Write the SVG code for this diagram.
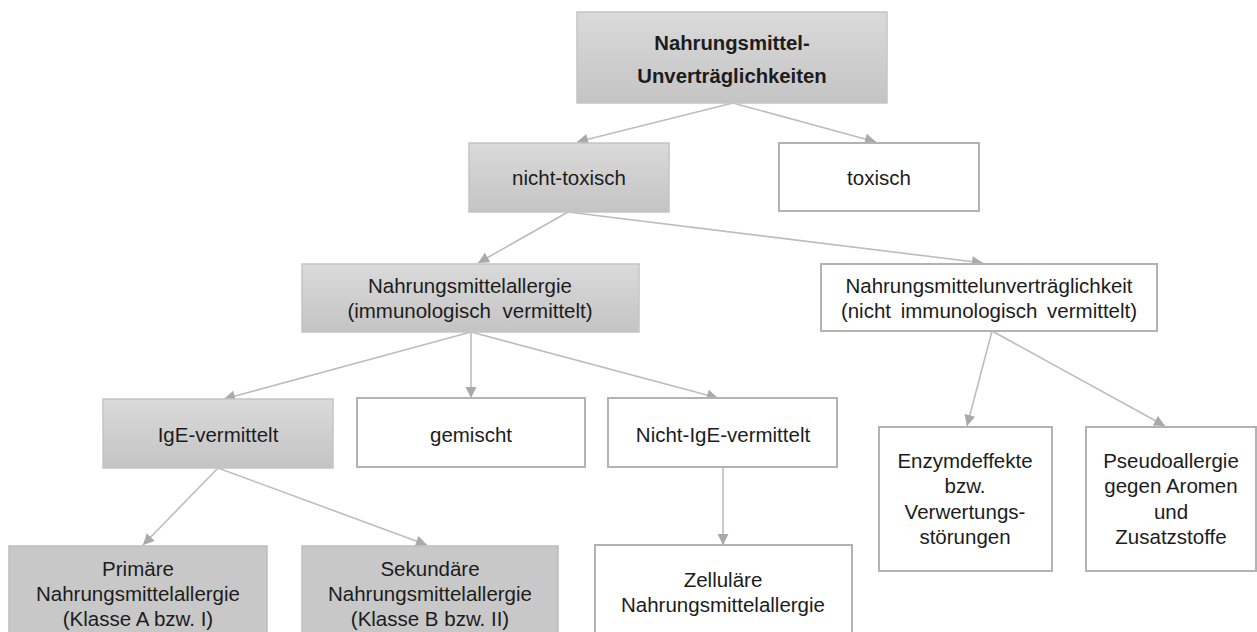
<svg xmlns="http://www.w3.org/2000/svg" width="1257" height="632" viewBox="0 0 1257 632">
<defs>
<linearGradient id="g" x1="0" y1="0" x2="0" y2="1">
<stop offset="0" stop-color="#dadada"/>
<stop offset="1" stop-color="#c4c4c4"/>
</linearGradient>
<marker id="arr" markerUnits="userSpaceOnUse" markerWidth="14" markerHeight="14" viewBox="0 0 14 14" refX="12" refY="7" orient="auto">
<path d="M1,1.5 L12,7 L1,12.5 Z" fill="#a9a9a9"/>
</marker>
<style>
.grad{fill:url(#g);stroke:#c4c4c4;stroke-width:1.5}
.flat{fill:#c8c8c8;stroke:#bdbdbd;stroke-width:1.5}
.white{fill:#ffffff;stroke:#b3b3b3;stroke-width:2}
text{font-family:"Liberation Sans",Arial,sans-serif;font-size:20.5px;fill:#1c1c1c;text-anchor:middle}
.bold{font-weight:bold;font-size:20.3px}
.conn line{stroke:#bdbdbd;stroke-width:1.6;marker-end:url(#arr)}
</style>
</defs>
<rect width="1257" height="632" fill="#ffffff"/>
<g class="conn" id="connectors">
<line x1="733" y1="103" x2="577" y2="142"/>
<line x1="733" y1="103" x2="876" y2="142"/>
<line x1="568" y1="212" x2="478" y2="263"/>
<line x1="568" y1="212" x2="983" y2="263"/>
<line x1="471" y1="332" x2="224" y2="399"/>
<line x1="471" y1="332" x2="471" y2="398"/>
<line x1="471" y1="332" x2="718" y2="398"/>
<line x1="992" y1="331" x2="967" y2="426"/>
<line x1="992" y1="331" x2="1165" y2="426"/>
<line x1="218" y1="468" x2="143" y2="545"/>
<line x1="218" y1="468" x2="427" y2="545"/>
<line x1="723" y1="467" x2="723" y2="545"/>
</g>
<g id="n-root">
<rect class="grad" x="577" y="12" width="310" height="91"/>
<text class="bold" x="732" y="50">Nahrungsmittel-</text>
<text class="bold" x="732" y="83">Unverträglichkeiten</text>
</g>
<g id="n-nichttoxisch">
<rect class="grad" x="469" y="143" width="200" height="69"/>
<text x="569" y="185">nicht-toxisch</text>
</g>
<g id="n-toxisch">
<rect class="white" x="779" y="143" width="200" height="68"/>
<text x="879" y="185">toxisch</text>
</g>
<g id="n-allergie">
<rect class="grad" x="302" y="264" width="337" height="68"/>
<text x="470" y="293">Nahrungsmittelallergie</text>
<text x="470" y="318" word-spacing="6">(immunologisch vermittelt)</text>
</g>
<g id="n-unvertraeglichkeit">
<rect class="white" x="821" y="264" width="336" height="67"/>
<text x="989" y="293">Nahrungsmittelunverträglichkeit</text>
<text x="989" y="318" word-spacing="4">(nicht immunologisch vermittelt)</text>
</g>
<g id="n-ige">
<rect class="grad" x="103" y="399" width="230" height="69"/>
<text x="218" y="442">IgE-vermittelt</text>
</g>
<g id="n-gemischt">
<rect class="white" x="357" y="398" width="228" height="69"/>
<text x="471" y="442">gemischt</text>
</g>
<g id="n-nichtige">
<rect class="white" x="608" y="398" width="229" height="69"/>
<text x="723" y="442">Nicht-IgE-vermittelt</text>
</g>
<g id="n-enzym">
<rect class="white" x="879" y="427" width="173" height="144"/>
<text x="965" y="468">Enzymdeffekte</text>
<text x="965" y="493">bzw.</text>
<text x="965" y="519">Verwertungs-</text>
<text x="965" y="544">störungen</text>
</g>
<g id="n-pseudo">
<rect class="white" x="1086" y="427" width="170" height="144"/>
<text x="1171" y="468">Pseudoallergie</text>
<text x="1171" y="493">gegen Aromen</text>
<text x="1171" y="519">und</text>
<text x="1171" y="544">Zusatzstoffe</text>
</g>
<g id="n-primaer">
<rect class="flat" x="9" y="546" width="258" height="100"/>
<text x="138" y="576">Primäre</text>
<text x="138" y="601">Nahrungsmittelallergie</text>
<text x="138" y="626">(Klasse A bzw. I)</text>
</g>
<g id="n-sekundaer">
<rect class="flat" x="302" y="546" width="256" height="100"/>
<text x="430" y="576">Sekundäre</text>
<text x="430" y="601">Nahrungsmittelallergie</text>
<text x="430" y="626">(Klasse B bzw. II)</text>
</g>
<g id="n-zellulaer">
<rect class="white" x="595" y="545" width="257" height="100"/>
<text x="723" y="587">Zelluläre</text>
<text x="723" y="612">Nahrungsmittelallergie</text>
</g>
</svg>
